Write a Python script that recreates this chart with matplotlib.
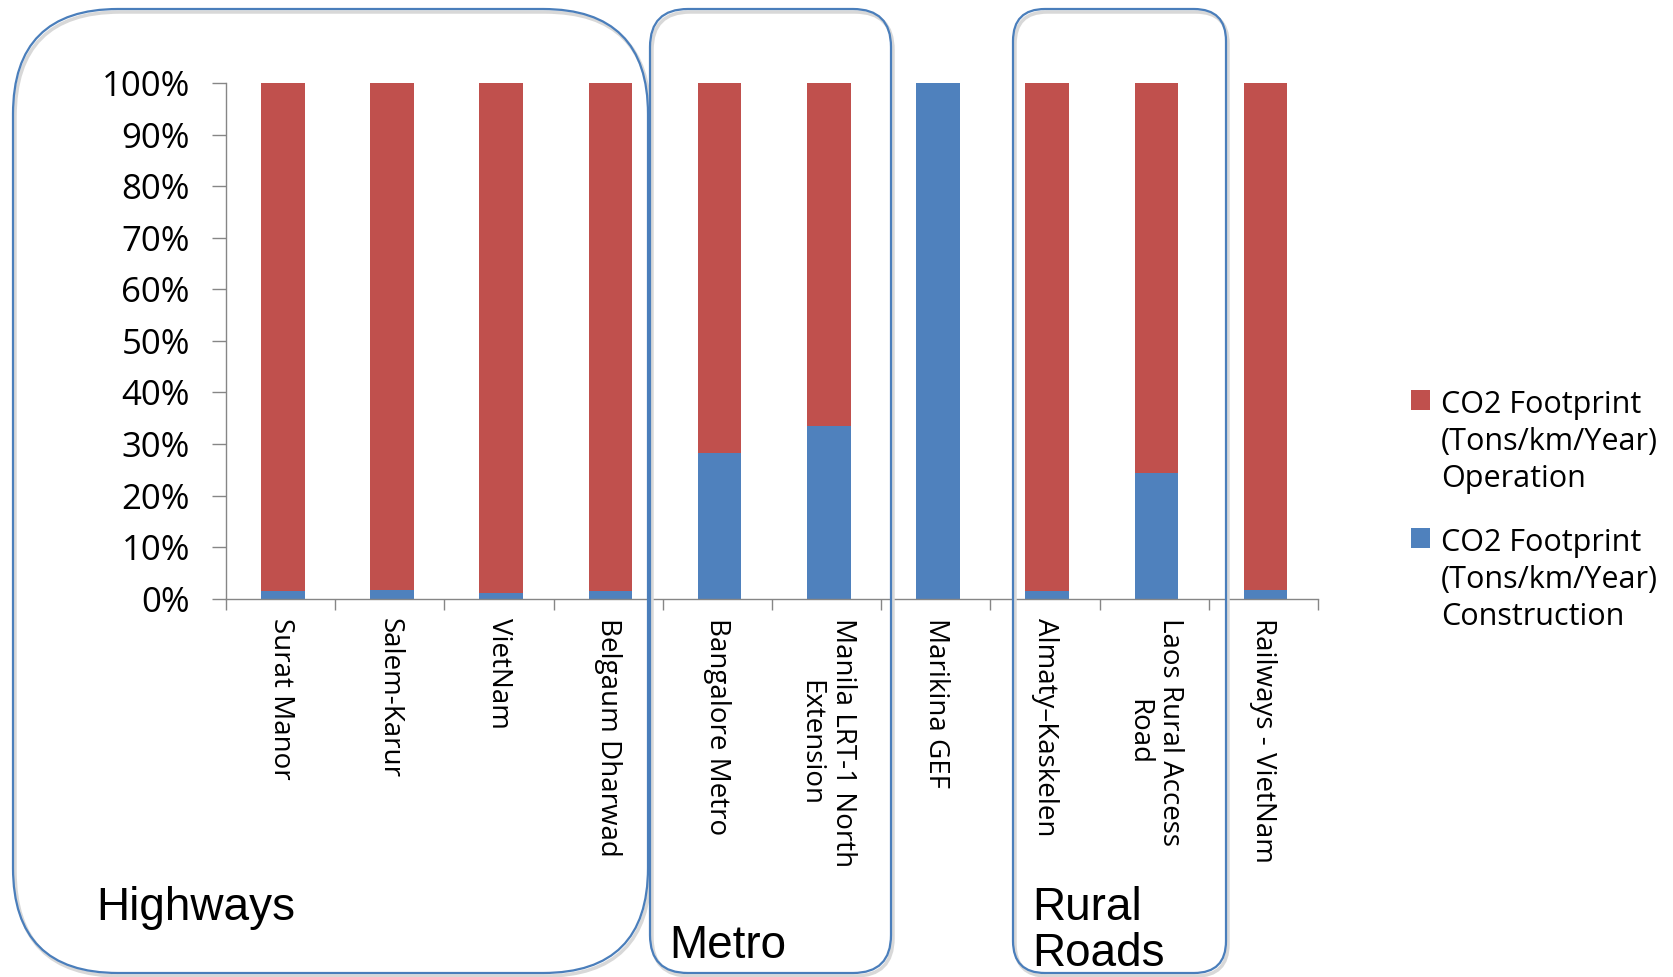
import numpy as np
import matplotlib.pyplot as plt
from matplotlib.patches import FancyBboxPatch, Rectangle
from matplotlib.legend_handler import HandlerPatch

# share of CO2 footprint per project, in percent
projects = ["Surat Manor", "Salem-Karur", "VietNam", "Belgaum Dharwad", "Bangalore Metro",
            "Manila LRT-1 North\nExtension", "Marikina GEF", "Almaty\u2013Kaskelen",
            "Laos Rural Access\nRoad", "Railways - VietNam"]
construction = [1.5, 1.7, 1.0, 1.5, 28.2, 33.5, 100.0, 1.5, 24.4, 1.7]
operation = [98.5, 98.3, 99.0, 98.5, 71.8, 66.5, 0.0, 98.5, 75.6, 98.3]

op_label = "CO2 Footprint\n(Tons/km/Year)\nOperation"
con_label = "CO2 Footprint\n(Tons/km/Year)\nConstruction"

RED = "#C0504D"
BLUE = "#4F81BD"
GREY = "#868686"
W, H = 1673, 977

fig = plt.figure(figsize=(W / 100, H / 100), dpi=100)
fig.patch.set_facecolor("white")

ax = fig.add_axes([226 / W, 1 - 598.6 / H, (1318 - 226) / W, (598.6 - 83.2) / H])
x = np.arange(len(projects))
b_con = ax.bar(x + 0.02, construction, width=0.4, color=BLUE, label=con_label, zorder=2)
b_op = ax.bar(x + 0.02, operation, bottom=construction, width=0.4, color=RED, label=op_label, zorder=2)

ax.set_xlim(-0.5, len(projects) - 0.5)
ax.set_ylim(0, 100)
ax.set_yticks(range(0, 101, 10))
ax.set_yticklabels([f"{v}%" for v in range(0, 101, 10)], fontsize=25, family="Open Sans")
ax.set_xticks(x)
ax.set_xticklabels(projects, rotation=-90, fontsize=20, family="Open Sans")
for lbl in ax.get_xticklabels():
    lbl.set_multialignment("center")
ax.set_xticks(np.arange(-0.5, len(projects), 1), minor=True)
ax.tick_params(axis="x", which="major", length=0, pad=14)
ax.tick_params(axis="x", which="minor", length=8, color=GREY, width=1)
ax.tick_params(axis="y", length=10, color=GREY, width=1, pad=16)
for s in ["top", "right"]:
    ax.spines[s].set_visible(False)
for s in ["left", "bottom"]:
    ax.spines[s].set_color(GREY)
    ax.spines[s].set_linewidth(1)


class TopSquare(HandlerPatch):
    # put the colour square next to the first line of a 3-line label
    def create_artists(self, legend, orig_handle, xdescent, ydescent, width, height, fontsize, trans):
        p = Rectangle((-xdescent, -ydescent + 1.4 * fontsize), width, height,
                      facecolor=orig_handle.get_facecolor(), edgecolor="none", transform=trans)
        return [p]


h_op, h_con = b_op.patches[0], b_con.patches[0]
leg = fig.legend(handles=[h_op, h_con], labels=[op_label, con_label], loc="center left",
                 bbox_to_anchor=(1411 / W, 0.477),
                 frameon=False, borderpad=0, borderaxespad=0, handlelength=0.62, handleheight=0.62,
                 handletextpad=0.35, labelspacing=1.1,
                 prop={"family": "Open Sans", "size": 22},
                 handler_map={h_op: TopSquare(), h_con: TopSquare()})
for t in leg.get_texts():
    t.set_linespacing(1.3)

# overlay in pixel units for the group outlines
ov = fig.add_axes([0, 0, 1, 1], zorder=5)
ov.set_xlim(0, W)
ov.set_ylim(H, 0)
ov.axis("off")
ov.patch.set_alpha(0)

groups = [("Highways", 13, 9, 648, 973, 105), ("Metro", 650, 9, 891, 973, 38),
          ("Rural Roads", 1013, 9, 1226, 973, 32)]
for name, x0, y0, x1, y1, r in groups:
    shadow = FancyBboxPatch((x0 + 2, y0 + 3), x1 - x0, y1 - y0,
                            boxstyle=f"round,pad=0,rounding_size={r}",
                            facecolor="none", edgecolor="#d8d8d8", linewidth=2.5)
    ov.add_patch(shadow)
    box = FancyBboxPatch((x0, y0), x1 - x0, y1 - y0, boxstyle=f"round,pad=0,rounding_size={r}",
                         facecolor="none", edgecolor="#4A7EBB", linewidth=1.6)
    ov.add_patch(box)

ov.text(96, 920, "Highways", fontsize=33, family="Liberation Sans", va="baseline")
ov.text(669, 958, "Metro", fontsize=33, family="Liberation Sans", va="baseline")
ov.text(1032, 920, "Rural", fontsize=33, family="Liberation Sans", va="baseline")
ov.text(1032, 966, "Roads", fontsize=33, family="Liberation Sans", va="baseline")

fig.savefig("out.png", dpi=100)
